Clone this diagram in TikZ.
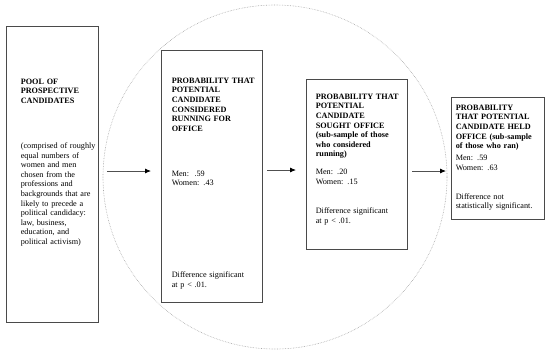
\documentclass[tikz,border=0pt]{standalone}
\usepackage{fontspec}
\setmainfont{Liberation Serif}
\usetikzlibrary{arrows.meta,positioning}
\definecolor{boxline}{HTML}{4A4A4A}
\definecolor{ringline}{HTML}{A8A8A8}
\definecolor{arrowline}{HTML}{505050}
\tikzset{
  stagebox/.style={draw=boxline,line width=0.8pt,inner sep=0pt},
  stagetext/.style={anchor=north west,inner sep=0pt,align=left,text width=95pt,font=\fontsize{8.2}{9.6}\selectfont},
  arrow/.style={-{Latex[length=6pt,width=5pt,color=black]},line width=0.8pt,arrowline},
  ring/.style={ringline,line width=0.6pt,densely dotted}
}
\begin{document}
\begin{tikzpicture}[x=1pt,y=-1pt]
  \useasboundingbox (0,0) rectangle (545,349);
  \draw[ring] (275,177) circle (172pt);

  % stages
  \node[stagebox,minimum width=92pt,minimum height=296pt] (pool) at (52,174) {};
  \node[stagebox,minimum width=101pt,minimum height=252pt] (considered) at (211.5,176) {};
  \node[stagebox,minimum width=101pt,minimum height=170pt] (sought) at (356.5,164) {};
  \node[stagebox,minimum width=93pt,minimum height=122pt] (held) at (497.5,158) {};

  \node[stagetext,below right=53pt and 15pt of pool.north west] (pooltext)
    {\bfseries POOL OF\\ PROSPECTIVE\\ CANDIDATES\\[35.4pt]\mdseries
     (comprised of roughly\\ equal numbers of\\ women and men\\ chosen from the\\
     professions and\\ backgrounds that are\\ likely to precede a\\
     political candidacy:\\ law, business,\\ education, and\\ political activism)};
  \node[stagetext,below right=28pt and 11pt of considered.north west] (consideredtext)
    {\bfseries PROBABILITY THAT\\ POTENTIAL\\ CANDIDATE\\ CONSIDERED\\ RUNNING FOR\\ OFFICE\\[35.4pt]\mdseries
     Men:\ \ .59\\ Women: .43\\[82.4pt]
     Difference significant\\ at p < .01.};
  \node[stagetext,below right=15pt and 10pt of sought.north west] (soughttext)
    {\bfseries PROBABILITY THAT\\ POTENTIAL\\ CANDIDATE\\ SOUGHT OFFICE\\
     (sub-sample of those\\ who considered\\ running)\\[8.4pt]\mdseries
     Men: .20\\ Women: .15\\[19.4pt]
     Difference significant\\ at p < .01.};
  \node[stagetext,below right=8pt and 5pt of held.north west] (heldtext)
    {\bfseries PROBABILITY\\ THAT POTENTIAL\\ CANDIDATE HELD\\ OFFICE (sub-sample\\ of those who ran)\\[2.4pt]\mdseries
     Men: .59\\ Women: .63\\[19.4pt]
     Difference not\\ statistically significant.};

  % connectors
  \coordinate (poolout) at (107,171);
  \coordinate (consideredin) at (151,171);
  \coordinate (consideredout) at (267,170);
  \coordinate (soughtin) at (296,170);
  \coordinate (soughtout) at (412,171);
  \coordinate (heldin) at (446,171);
  \draw[arrow] (poolout) -- (consideredin);
  \draw[arrow] (consideredout) -- (soughtin);
  \draw[arrow] (soughtout) -- (heldin);
\end{tikzpicture}
\end{document}
